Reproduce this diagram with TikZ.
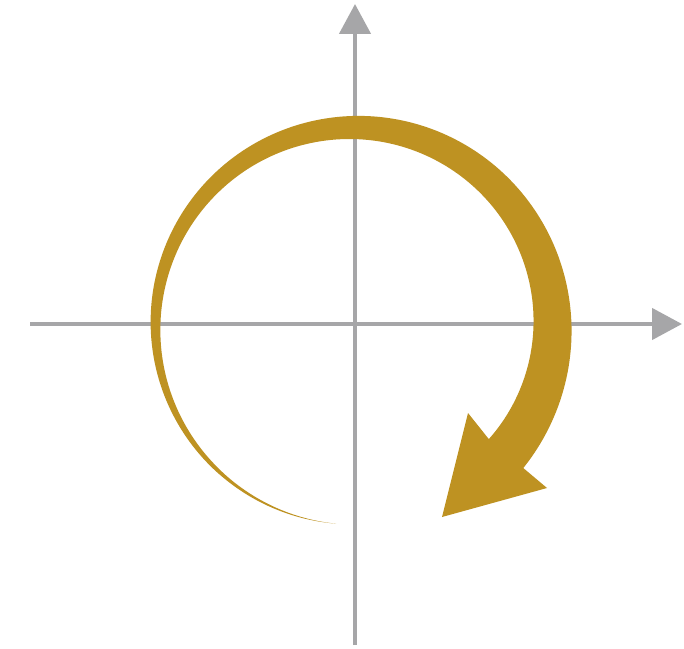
\documentclass[tikz,border=0pt]{standalone}
\usetikzlibrary{arrows.meta}
\definecolor{gold}{RGB}{190,146,34}
\definecolor{axisgrey}{RGB}{166,166,168}
\tikzset{
  axis/.style={draw=axisgrey, line width=4.5pt, -{Triangle[length=30pt,width=31pt]}},
  band/.style={fill=gold, draw=none}
}
\begin{document}
\begin{tikzpicture}[x=1pt,y=1pt,
  declare function={hw(\t)=22.5*((265-\t)/305)^1.2; rr(\t)=198.5;}]
\useasboundingbox (0,0) rectangle (684,648);
\fill[white] (0,0) rectangle (684,648);
% axes
\coordinate (xl) at (30,324);
\coordinate (xr) at (682,324);
\coordinate (yb) at (355,3);
\coordinate (yt) at (355,644);
\draw[axis] (xl) -- (xr);
\draw[axis] (yb) -- (yt);
% arrow head points
\coordinate (barbR) at (547,160);
\coordinate (tip) at (442,131);
\coordinate (barbL) at (468,235);
% tapered circular arrow
\fill[band]
  plot[domain=264.8:-40, samples=120, smooth]
    ({354+(198.5+hw(\x))*cos(\x)}, {322+(198.5+hw(\x))*sin(\x)})
  -- (barbR) -- (tip) -- (barbL)
  -- plot[domain=-40:264.8, samples=120, smooth]
    ({354+(198.5-hw(\x))*cos(\x)}, {322+(198.5-hw(\x))*sin(\x)})
  -- cycle;
\end{tikzpicture}
\end{document}
